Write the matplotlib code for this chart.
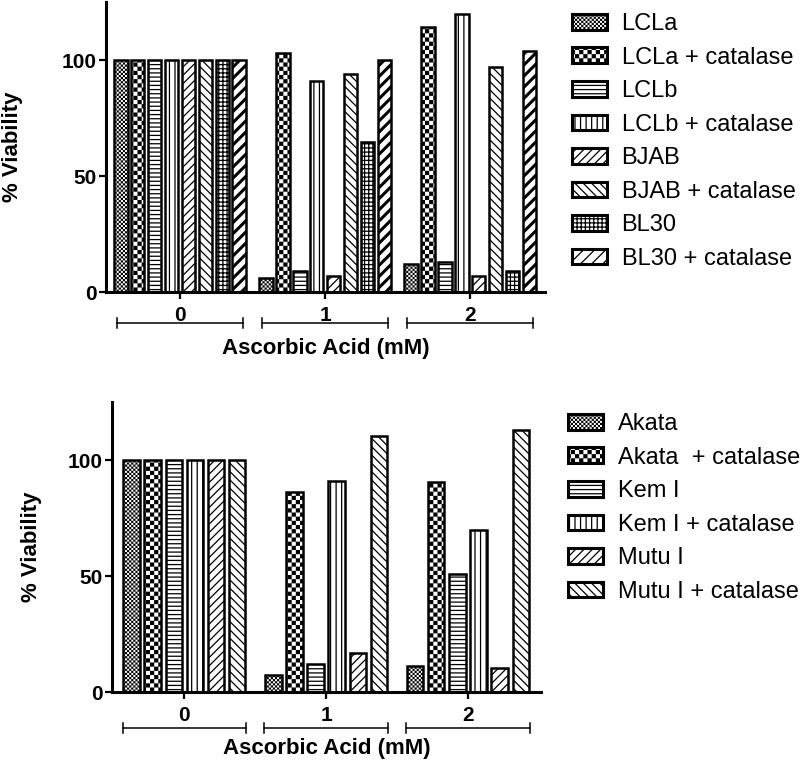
import warnings
import numpy as np
import matplotlib
matplotlib.use('Agg')
from matplotlib import pyplot as plt
from matplotlib import hatch as mhatch
from matplotlib import transforms
from matplotlib.path import Path

warnings.simplefilter('ignore')

# data
groups = ['0', '1', '2']

top_names = ['LCLa', 'LCLa + catalase', 'LCLb', 'LCLb + catalase',
             'BJAB', 'BJAB + catalase', 'BL30', 'BL30 + catalase']
lcla = [100, 6, 12]
lcla_cat = [100, 103, 114.4]
lclb = [100, 9, 13]
lclb_cat = [100, 91, 120]
bjab = [100, 7, 7]
bjab_cat = [100, 94, 97]
bl30 = [100, 64.5, 9]
bl30_cat = [100, 100, 104]
top_vals = [lcla, lcla_cat, lclb, lclb_cat, bjab, bjab_cat, bl30, bl30_cat]

bot_names = ['Akata', 'Akata  + catalase', 'Kem I', 'Kem I + catalase',
             'Mutu I', 'Mutu I + catalase']
akata = [100, 7.5, 11]
akata_cat = [100, 86, 90.5]
kem = [100, 12, 51]
kem_cat = [100, 91, 70]
mutu = [100, 17, 10.3]
mutu_cat = [100, 110.5, 113]
bot_vals = [akata, akata_cat, kem, kem_cat, mutu, mutu_cat]


# checkerboard hatch ('c'), matplotlib has none built in
class CheckerHatch(mhatch.HatchPatternBase):
    def __init__(self, hatch, density):
        self.n = hatch.count('c') * density * 2
        self.num_vertices = (self.n * self.n // 2) * 5
        self.filled = True

    def set_vertices_and_codes(self, vertices, codes):
        s = 1.0 / self.n
        d = 0.6 / 100.0  # shrink a bit, the hatch stroke adds it back
        k = 0
        for i in range(self.n):
            for j in range(self.n):
                if (i + j) % 2 == 0:
                    x, y = i * s, j * s
                    vertices[k:k + 5] = [(x + d, y + d), (x + s - d, y + d),
                                         (x + s - d, y + s - d), (x + d, y + s - d),
                                         (x + d, y + d)]
                    codes[k:k + 5] = [Path.MOVETO, Path.LINETO, Path.LINETO,
                                      Path.LINETO, Path.CLOSEPOLY]
                    k += 5


mhatch._hatch_types.append(CheckerHatch)

plt.rcParams['font.family'] = ['Liberation Sans', 'DejaVu Sans']
plt.rcParams['hatch.linewidth'] = 0.9

top_hatch = ['cccc', 'cc', '----', '|||', '////', '\\\\\\\\', '++++', '///']
bot_hatch = ['cccc', 'cc', '----', '|||', '////', '\\\\\\\\']

fig = plt.figure(figsize=(8, 7.62), dpi=100)
ax1 = fig.add_axes([106 / 800, 1 - 292 / 762, 439 / 800, 290 / 762])
ax2 = fig.add_axes([112 / 800, 1 - 692 / 762, 429 / 800, 290 / 762])

x = np.arange(len(groups))


def draw(ax, names, vals, hatches, slot, width, ylab_x, bracket_y, leg_xy):
    n = len(names)
    for i, (name, v, h) in enumerate(zip(names, vals, hatches)):
        bars = ax.bar(x + (i - (n - 1) / 2) * slot, v, width, color='white',
                      edgecolor='black', linewidth=1.8, hatch=h, label=name,
                      zorder=3)
        for b in bars:
            if h == '///' and hasattr(b, 'set_hatch_linewidth'):
                b.set_hatch_linewidth(2.2)
    ax.set_xlim(-0.51, 2.515)
    ax.set_ylim(0, 125)
    ax.set_yticks([0, 50, 100])
    ax.set_xticks(x)
    ax.set_xticklabels([])
    for s in ['top', 'right']:
        ax.spines[s].set_visible(False)
    for s in ['left', 'bottom']:
        ax.spines[s].set_linewidth(2.2)
        ax.spines[s].set_zorder(4)
    ax.tick_params(axis='y', direction='out', length=5, width=1.6, pad=1.5,
                   labelsize=15)
    ax.tick_params(axis='x', direction='out', length=5, width=1.6)
    for lab in ax.get_yticklabels():
        lab.set_fontweight('bold')
    ax.set_ylabel('% Viability', fontsize=16, fontweight='bold')
    ax.yaxis.set_label_coords(ylab_x, 0.5)
    ax.set_xlabel('Ascorbic Acid (mM)', fontsize=16, fontweight='bold')
    ax.xaxis.set_label_coords(0.5, -0.16)

    # group brackets under the axis
    tr = transforms.blended_transform_factory(ax.transData, ax.transAxes)
    for xi, g in zip(x, groups):
        ax.plot([xi - 0.435, xi + 0.435], [bracket_y, bracket_y], color='black',
                lw=1.1, transform=tr, clip_on=False)
        for e in [xi - 0.435, xi + 0.435]:
            ax.plot([e, e], [bracket_y - 0.018, bracket_y + 0.018], color='black',
                    lw=1.1, transform=tr, clip_on=False)
        ax.text(xi, -0.08, g, transform=tr, ha='center', va='center',
                fontsize=15, fontweight='bold')

    leg = fig.legend(*ax.get_legend_handles_labels(), loc='upper left',
                     bbox_to_anchor=leg_xy, frameon=False, fontsize=17,
                     borderpad=0, borderaxespad=0, handlelength=1.48,
                     handleheight=0.64, handletextpad=0.62, labelspacing=0.49)
    for p in leg.get_patches():
        p.set_linewidth(2.2)


draw(ax1, top_names, top_vals, top_hatch, 0.1165, 0.093, -0.19, -0.107,
     (572 / 800, 1 - 13 / 762))
draw(ax2, bot_names, bot_vals, bot_hatch, 0.149, 0.116, -0.163, -0.124,
     (568 / 800, 1 - 413 / 762))

fig.savefig('out.png', dpi=100)
